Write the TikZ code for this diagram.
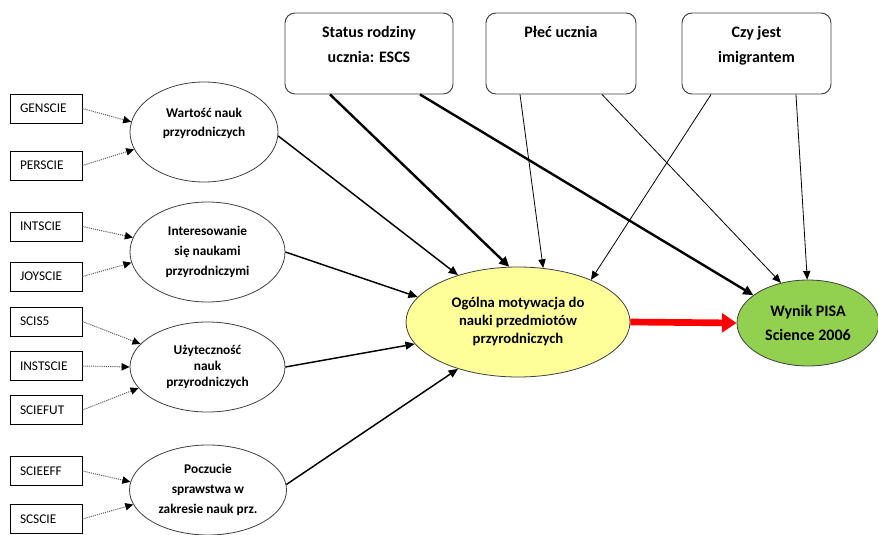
\documentclass[tikz,border=0pt]{standalone}
\usepackage{fontspec}
\setmainfont{Carlito}
\usetikzlibrary{arrows.meta,shapes.geometric}
\definecolor{ogolfill}{HTML}{FFFF99}
\definecolor{wynikfill}{HTML}{92D050}
\definecolor{bordergray}{HTML}{404040}
\tikzset{
  varbox/.style={draw=black, line width=0.7pt, rectangle, minimum width=54pt, minimum height=21.75pt,
    inner xsep=7.5pt, text width=39pt, align=left, font=\fontsize{10}{11}\selectfont},
  vartext/.style={yshift=-1.5pt},
  latent/.style={draw=bordergray, line width=0.6pt, ellipse, inner sep=0pt, align=center},
  topbox/.style={draw=bordergray, line width=0.7pt, rectangle, rounded corners=7.5pt, minimum height=60.75pt},
  toptext/.style={anchor=north, align=center, font=\bfseries\fontsize{12}{18.75}\selectfont},
  dotarrow/.style={draw=black!65, line width=0.75pt, dash pattern=on 0.8pt off 0.8pt,
    -{Triangle[length=6pt,width=5.5pt,color=black]}},
  midarrow/.style={draw=black, line width=1.1pt, -{Triangle[length=7pt,width=6pt]}},
  thickarrow/.style={draw=black, line width=1.8pt, -{Triangle[length=7.5pt,width=7pt]}},
  thinarrow/.style={draw=black, line width=0.6pt, -{Triangle[length=6.5pt,width=5.5pt]}},
  redarrow/.style={draw=red, line width=5pt, -{Triangle[length=11pt,width=14pt]}},
}
\begin{document}
\begin{tikzpicture}[x=0.75pt,y=-0.75pt]
\useasboundingbox (0,0) rectangle (878,535);

% top boxes
\node[topbox, minimum width=126pt] (st) at (369,53.5) {};
\node[toptext] (stT) at ([yshift=-6.5pt]st.north) {Status rodziny\\ucznia: ESCS};
\node[topbox, minimum width=112.5pt] (pl) at (561,53.5) {};
\node[toptext] (plT) at ([yshift=-6.5pt]pl.north) {Płeć ucznia};
\node[topbox, minimum width=111.75pt] (cz) at (756.5,53.5) {};
\node[toptext] (czT) at ([yshift=-7pt]cz.north) {Czy jest\\imigrantem};

% left observed variables
\node[varbox] (gen) at (46,108.5) {\raisebox{-1.5pt}{GENSCIE}};
\node[varbox] (per) at (46,165.5) {\raisebox{-1.5pt}{PERSCIE}};
\node[varbox] (int) at (46,226.5) {\raisebox{-1.5pt}{INTSCIE}};
\node[varbox] (joy) at (46,276.5) {\raisebox{-1.5pt}{JOYSCIE}};
\node[varbox] (sci5) at (46,321.5) {\raisebox{-1.5pt}{SCIS5}};
\node[varbox] (inst) at (46,366) {\raisebox{-1.5pt}{INSTSCIE}};
\node[varbox] (fut) at (46,410) {\raisebox{-1.5pt}{SCIEFUT}};
\node[varbox] (eff) at (46,471) {\raisebox{-1.5pt}{SCIEEFF}};
\node[varbox] (scs) at (46,519) {\raisebox{-1.5pt}{SCSCIE}};

% latent ellipses
\node[latent, minimum width=111pt, minimum height=75pt, font=\bfseries\fontsize{10}{14.25}\selectfont]
  (wart) at (204,132) {Wartość nauk\\przyrodniczych\\\mbox{}};
\node[latent, minimum width=116.25pt, minimum height=75pt, font=\bfseries\fontsize{10}{15}\selectfont]
  (inter) at (207.5,252) {Interesowanie\\się naukami\\przyrodniczymi};
\node[latent, minimum width=116.25pt, minimum height=67.5pt, font=\bfseries\fontsize{10}{12}\selectfont]
  (uzyt) at (207.5,367) {Użyteczność\\nauk\\przyrodniczych};
\node[latent, minimum width=117.75pt, minimum height=67.5pt, font=\bfseries\fontsize{10}{15}\selectfont]
  (pocz) at (208,490) {Poczucie\\sprawstwa w\\zakresie nauk prz.};

\node[latent, fill=ogolfill, minimum width=168pt, minimum height=82.5pt, font=\bfseries\fontsize{11}{13.5}\selectfont]
  (ogol) at (518,322) {Ogólna motywacja do\\nauki przedmiotów\\przyrodniczych};
\node[latent, fill=wynikfill, minimum width=106.5pt, minimum height=64.5pt, font=\bfseries\fontsize{12}{18}\selectfont]
  (wynik) at (808,323) {Wynik PISA\\Science 2006};

% dotted indicator arrows
\draw[dotarrow] (gen.east) -- (wart.172.9);
\draw[dotarrow] (per.east) -- (wart.194.2);
\draw[dotarrow] (int.east) -- (inter.169.5);
\draw[dotarrow] (joy.east) -- (inter.188.3);
\draw[dotarrow] (sci5.east) -- (uzyt.161.7);
\draw[dotarrow] (inst.east) -- (uzyt.180);
\draw[dotarrow] (fut.east) -- (uzyt.197.2);
\draw[dotarrow] (eff.east) -- (pocz.174.8);
\draw[dotarrow] (scs.east) -- (pocz.191);

% latent -> Ogolna
\draw[midarrow] (wart.-3) -- (ogol.142.2);
\draw[midarrow] (inter.east) -- (ogol.166.5);
\draw[midarrow] (uzyt.east) -- (ogol.192.2);
\draw[midarrow] (pocz.4) -- (ogol.218.8);

% top boxes -> Ogolna / Wynik
\draw[thickarrow] ([xshift=-29.25pt]st.south) -- (ogol.99.5);
\draw[thickarrow] ([xshift=38.25pt]st.south) -- (wynik.153.9);
\draw[thinarrow] ([xshift=-30.75pt]pl.south) -- (ogol.65.2);
\draw[thinarrow] ([xshift=30.75pt]pl.south) -- (wynik.124.6);
\draw[thinarrow] ([xshift=-34.1pt]cz.south) -- (ogol.30.7);
\draw[thinarrow] ([xshift=29.6pt]cz.south) -- (wynik.91.3);

% main effect
\draw[redarrow] (ogol.east) -- (wynik.west);
\end{tikzpicture}
\end{document}
